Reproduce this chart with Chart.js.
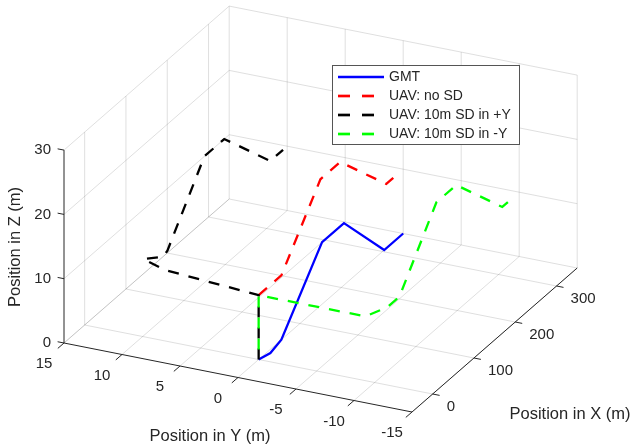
<!DOCTYPE html>
<html><head><meta charset="utf-8">
<script src="https://cdn.jsdelivr.net/npm/chart.js@4/dist/chart.umd.min.js"></script>
<style>html,body{margin:0;padding:0;background:#fff}canvas{display:block}</style>
</head><body>
<canvas id="c" width="636" height="447"></canvas>
<script>
// ---- axis ticks & limits ----
const xTicks = [0, 100, 200, 300];
const yTicks = [15, 10, 5, 0, -5, -10, -15];
const zTicks = [0, 10, 20, 30];
const xLim = [-50, 350];
const yLim = [-15, 15];
const zLim = [0, 30];

const seriesNames = ['GMT', 'UAV: no SD', 'UAV: 10m SD in +Y', 'UAV: 10m SD in -Y'];

// ---- data (3D positions, m) ----
const gmtX = [0, 20, 55, 294, 347, 304, 350];
const gmtY = [0, -0.3, 0, 5, 5, 0, 0];
const gmtZ = [0, 0, 0, 0, 0, 0, 0];

const noSdX = [0, 55, 290, 338, 309, 326];
const noSdY = [0, 0, 5, 5, 0, 0];
const noSdZ = [10, 10, 10, 10, 10, 10];

const plusYX = [0, 0, 15, 30, 44, 60, 290, 338, 309, 340];
const plusYY = [0, 0, 8.6, 11, 9.8, 10, 15, 15, 10, 10];
const plusYZ = [0, 10, 10, 10, 10, 10, 10, 10, 10, 10];

const minusYX = [0, 0, 0, 30, 60, 290, 338, 309, 335];
const minusYY = [0, 0, -9.2, -10, -10, -5, -5, -10, -10];
const minusYZ = [0, 10, 10, 10, 10, 10, 10, 10, 10];

// ---- view (orthographic projection onto the 2D chart plane) ----
const view = { ox: 64, oy: 343, xdx: 0.413, xdy: -0.36, ydx: -11.6, ydy: -2.3, zdy: -6.43 };
function project(X, Y, Z) {
  const a = X - xLim[0], b = Y - yLim[1];
  return { x: view.ox + a * view.xdx + b * view.ydx,
           y: view.oy + a * view.xdy + b * view.ydy + Z * view.zdy };
}
function path(xs, ys, zs) { return xs.map((x, i) => project(x, ys[i], zs[i])); }

const colors = ['#0000ff', '#ff0000', '#000000', '#00ff00'];
const dash = [11, 10];
const FONT = "'Liberation Sans', Arial, Helvetica, sans-serif";
const TXT = '#262626';

const datasets = [
  { label: seriesNames[0], data: path(gmtX, gmtY, gmtZ), borderColor: colors[0], borderDash: [], order: 3 },
  { label: seriesNames[1], data: path(noSdX, noSdY, noSdZ), borderColor: colors[1], borderDash: dash, order: 2 },
  { label: seriesNames[2], data: path(plusYX, plusYY, plusYZ), borderColor: colors[2], borderDash: dash, order: 1 },
  { label: seriesNames[3], data: path(minusYX, minusYY, minusYZ), borderColor: colors[3], borderDash: dash, borderDashOffset: 11, order: 0 }
].map(d => Object.assign({ showLine: true, borderWidth: 2.3, pointRadius: 0, fill: false, tension: 0, borderCapStyle: 'butt' }, d));

const box3d = {
  id: 'box3d',
  beforeDatasetsDraw(chart) {
    const ctx = chart.ctx, sx = chart.scales.x, sy = chart.scales.y;
    const P = (X, Y, Z) => { const p = project(X, Y, Z); return [sx.getPixelForValue(p.x), sy.getPixelForValue(p.y)]; };
    const seg = (a, b) => { ctx.beginPath(); ctx.moveTo(a[0], a[1]); ctx.lineTo(b[0], b[1]); ctx.stroke(); };
    ctx.save();
    // grid
    ctx.strokeStyle = 'rgba(38,38,38,0.15)';
    ctx.lineWidth = 1;
    yTicks.forEach(y => seg(P(xLim[0], y, 0), P(xLim[1], y, 0)));
    xTicks.forEach(x => seg(P(x, yLim[1], 0), P(x, yLim[0], 0)));
    yTicks.forEach(y => seg(P(xLim[1], y, zLim[0]), P(xLim[1], y, zLim[1])));
    zTicks.forEach(z => seg(P(xLim[1], yLim[1], z), P(xLim[1], yLim[0], z)));
    xTicks.forEach(x => seg(P(x, yLim[1], zLim[0]), P(x, yLim[1], zLim[1])));
    zTicks.forEach(z => seg(P(xLim[0], yLim[1], z), P(xLim[1], yLim[1], z)));
    // axes
    ctx.strokeStyle = TXT;
    ctx.lineWidth = 1;
    seg(P(xLim[0], yLim[1], zLim[0]), P(xLim[0], yLim[1], zLim[1]));
    seg(P(xLim[0], yLim[1], 0), P(xLim[0], yLim[0], 0));
    seg(P(xLim[0], yLim[0], 0), P(xLim[1], yLim[0], 0));
    // ticks
    zTicks.forEach(z => seg(P(xLim[0], yLim[1], z), P(xLim[0], yLim[1] + 0.55, z)));
    yTicks.forEach(y => seg(P(xLim[0], y, 0), P(xLim[0] - 15, y, 0)));
    xTicks.forEach(x => seg(P(x, yLim[0], 0), P(x, yLim[0] - 0.6, 0)));
    // tick labels
    ctx.fillStyle = TXT;
    ctx.font = '15px ' + FONT;
    ctx.textBaseline = 'middle';
    ctx.textAlign = 'right';
    zTicks.forEach(z => { const p = P(xLim[0], yLim[1], z); ctx.fillText(String(z), p[0] - 13, p[1]); });
    ctx.textAlign = 'center';
    yTicks.forEach(y => { const p = P(xLim[0], y, 0); ctx.fillText(String(y), p[0] - 20, p[1] + 21); });
    ctx.textAlign = 'left';
    xTicks.forEach(x => { const p = P(x, yLim[0], 0); ctx.fillText(String(x), p[0] + 14, p[1] + 13); });
    // axis titles
    ctx.font = '16.5px ' + FONT;
    ctx.textAlign = 'center';
    ctx.fillText('Position in Y (m)', 210, 436);
    ctx.fillText('Position in X (m)', 570, 414);
    ctx.save();
    ctx.translate(15, 247);
    ctx.rotate(-Math.PI / 2);
    ctx.fillText('Position in Z (m)', 0, 0);
    ctx.restore();
    ctx.restore();
  },
  afterDatasetsDraw(chart) {
    const ctx = chart.ctx;
    ctx.save();
    const bx = 332.5, by = 65.5, bw = 187, bh = 79;
    ctx.fillStyle = '#ffffff';
    ctx.fillRect(bx, by, bw, bh);
    ctx.strokeStyle = '#555555';
    ctx.lineWidth = 1;
    ctx.strokeRect(bx, by, bw, bh);
    ctx.font = '14px ' + FONT;
    ctx.textAlign = 'left';
    ctx.textBaseline = 'middle';
    chart.data.datasets.forEach((d, i) => {
      const yy = 77 + i * 19;
      ctx.strokeStyle = d.borderColor;
      ctx.lineWidth = 2.67;
      ctx.setLineDash(d.borderDash && d.borderDash.length ? [12, 12] : []);
      ctx.lineDashOffset = 0;
      ctx.beginPath(); ctx.moveTo(338, yy); ctx.lineTo(384, yy); ctx.stroke();
      ctx.setLineDash([]);
      ctx.fillStyle = TXT;
      ctx.fillText(d.label, 389, yy);
    });
    ctx.restore();
  }
};

new Chart(document.getElementById('c'), {
  type: 'scatter',
  data: { datasets },
  options: {
    responsive: false,
    animation: false,
    devicePixelRatio: 1,
    layout: { padding: 0 },
    plugins: { legend: { display: false }, tooltip: { enabled: false } },
    scales: {
      x: { type: 'linear', min: 0, max: 636, display: false },
      y: { type: 'linear', min: 0, max: 447, reverse: true, display: false }
    }
  },
  plugins: [box3d]
});
</script>
</body></html>
